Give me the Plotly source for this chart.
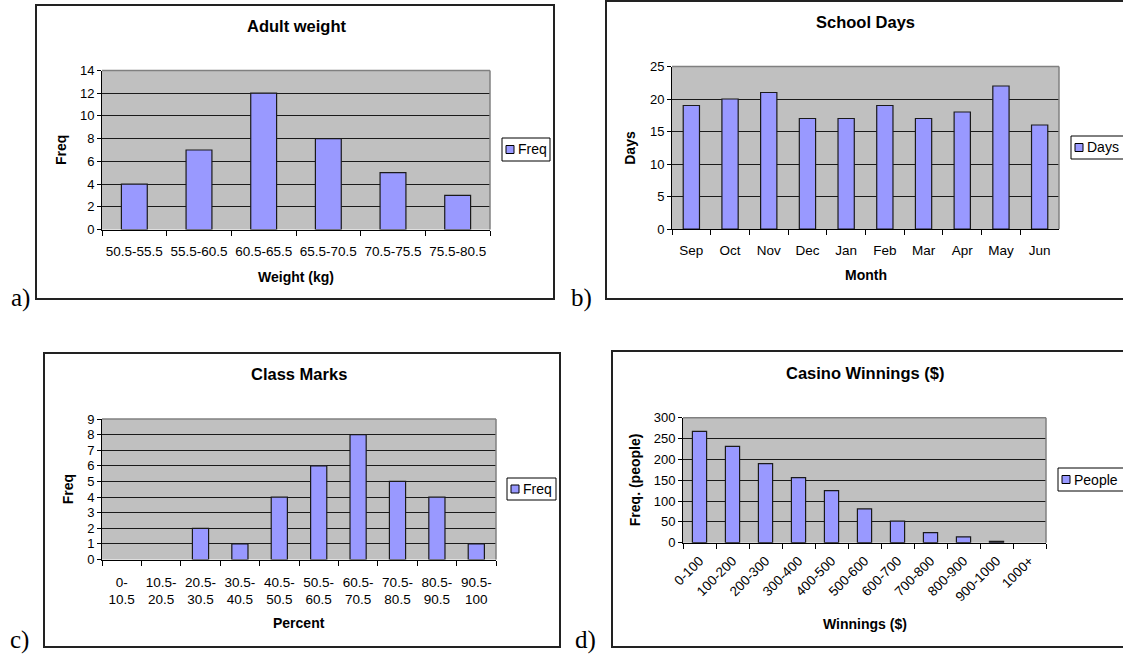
import plotly.graph_objects as go

W, H = 1123, 657

# ---------------- data ----------------
a_cats = ["50.5-55.5", "55.5-60.5", "60.5-65.5", "65.5-70.5", "70.5-75.5", "75.5-80.5"]
a_vals = [4, 7, 12, 8, 5, 3]

b_cats = ["Sep", "Oct", "Nov", "Dec", "Jan", "Feb", "Mar", "Apr", "May", "Jun"]
b_vals = [19, 20, 21, 17, 17, 19, 17, 18, 22, 16]

c_cats = ["0-<br>10.5", "10.5-<br>20.5", "20.5-<br>30.5", "30.5-<br>40.5", "40.5-<br>50.5",
          "50.5-<br>60.5", "60.5-<br>70.5", "70.5-<br>80.5", "80.5-<br>90.5", "90.5-<br>100"]
c_vals = [0, 0, 2, 1, 4, 6, 8, 5, 4, 1]

d_cats = ["0-100", "100-200", "200-300", "300-400", "400-500", "500-600",
          "600-700", "700-800", "800-900", "900-1000", "1000+"]
d_vals = [267, 231, 190, 156, 125, 81, 52, 24, 14, 3, 0]

titles = ["Adult weight", "School Days", "Class Marks", "Casino Winnings ($)"]
x_titles = ["Weight (kg)", "Month", "Percent", "Winnings ($)"]
y_titles = ["Freq", "Days", "Freq", "Freq. (people)"]
series_names = ["Freq", "Days", "Freq", "People"]
panel_labels = ["a)", "b)", "c)", "d)"]
y_ranges = [(0, 14), (0, 25), (0, 9), (0, 300)]
y_dticks = [2, 5, 1, 50]

# ---------------- layout (pixel geometry) ----------------
FONT = "Liberation Sans, Arial, sans-serif"
SERIF = "Liberation Serif, Times New Roman, serif"
BAR_FILL = "#9999FF"
BAR_LINE = "#1a1a1a"
PLOT_BG = "#C0C0C0"


def fx(x):
    return x / W


def fy(y):
    return 1 - y / H


panels = [
    dict(frame=(36, 5, 554, 299), plot=(102, 70.5, 490, 229.5), title_y=26,
         ytitle_x=61, xtitle_y=277, legend=(502, 138, 550, 161), label=(20, 298),
         bar_w=0.40, tickangle=0, standoff=9),
    dict(frame=(606, 1, 1140, 299), plot=(672, 66.5, 1059, 229), title_y=22,
         ytitle_x=630, xtitle_y=275, legend=(1071, 136, 1140, 159), label=(581, 298),
         bar_w=0.42, tickangle=0, standoff=9),
    dict(frame=(44, 353, 560, 647), plot=(102, 419, 496, 559.5), title_y=374,
         ytitle_x=68, xtitle_y=623, legend=(507, 478, 556, 500), label=(19, 640),
         bar_w=0.41, tickangle=0, standoff=10),
    dict(frame=(612, 351, 1140, 647), plot=(683, 417.7, 1046, 542.7), title_y=373,
         ytitle_x=635, xtitle_y=624, legend=(1058, 468, 1140, 491), label=(585, 640),
         bar_w=0.43, tickangle=-45, standoff=4),
]

cats_all = [a_cats, b_cats, c_cats, d_cats]
vals_all = [a_vals, b_vals, c_vals, d_vals]

fig = go.Figure()
shapes = []
annotations = []
layout_axes = {}

for i, p in enumerate(panels):
    n = "" if i == 0 else str(i + 1)
    xa, ya = "x" + n, "y" + n
    x0, y0, x1, y1 = p["plot"]

    # zero-height bars have no visible outline (Excel style)
    line_w = [1.2 if v > 0 else 0 for v in vals_all[i]]
    fig.add_trace(go.Bar(
        x=cats_all[i], y=vals_all[i], name=series_names[i],
        xaxis=xa, yaxis=ya, width=p["bar_w"],
        marker=dict(color=BAR_FILL, line=dict(color=BAR_LINE, width=line_w)),
        showlegend=False,
    ))

    layout_axes["xaxis" + n] = dict(
        domain=[fx(x0), fx(x1)], anchor=ya, type="category",
        showgrid=False, showline=True, linecolor="black", linewidth=1,
        ticks="outside", ticklen=5, tickcolor="black", tickson="boundaries",
        tickangle=p["tickangle"], tickfont=dict(family=FONT, size=13.5, color="black"),
        ticklabelstandoff=p["standoff"], automargin=False, fixedrange=True,
    )
    layout_axes["yaxis" + n] = dict(
        domain=[fy(y1), fy(y0)], anchor=xa, range=list(y_ranges[i]),
        dtick=y_dticks[i], tick0=0, showgrid=True, gridcolor="#1a1a1a", gridwidth=1,
        zeroline=False, showline=True, linecolor="black", linewidth=1,
        ticks="outside", ticklen=4, tickcolor="black",
        tickfont=dict(family=FONT, size=13, color="black"),
        automargin=False, fixedrange=True,
    )

    # plot-area border (top and right edges, grey)
    shapes.append(dict(type="line", xref="paper", yref="paper",
                       x0=fx(x0), x1=fx(x1), y0=fy(y0), y1=fy(y0),
                       line=dict(color="#808080", width=1.5), layer="above"))
    shapes.append(dict(type="line", xref="paper", yref="paper",
                       x0=fx(x1), x1=fx(x1), y0=fy(y0), y1=fy(y1),
                       line=dict(color="#808080", width=1.5), layer="above"))

    # chart frame
    f0, g0, f1, g1 = p["frame"]
    shapes.append(dict(type="rect", xref="paper", yref="paper",
                       x0=fx(f0), x1=fx(f1), y0=fy(g1), y1=fy(g0),
                       line=dict(color="#222222", width=2), fillcolor="rgba(0,0,0,0)",
                       layer="below"))

    cx = (x0 + x1) / 2
    # title
    annotations.append(dict(text=titles[i], xref="paper", yref="paper",
                            x=fx(cx), y=fy(p["title_y"]), xanchor="center", yanchor="middle",
                            showarrow=False,
                            font=dict(family=FONT, size=16.5, color="black", weight="bold")))
    # x title
    annotations.append(dict(text=x_titles[i], xref="paper", yref="paper",
                            x=fx(cx), y=fy(p["xtitle_y"]), xanchor="center", yanchor="middle",
                            showarrow=False,
                            font=dict(family=FONT, size=14, color="black", weight="bold")))
    # y title
    annotations.append(dict(text=y_titles[i], xref="paper", yref="paper",
                            x=fx(p["ytitle_x"]), y=fy((y0 + y1) / 2), xanchor="center",
                            yanchor="middle", textangle=-90, showarrow=False,
                            font=dict(family=FONT, size=14, color="black", weight="bold")))
    # panel label
    lx, ly = p["label"]
    annotations.append(dict(text=panel_labels[i], xref="paper", yref="paper",
                            x=fx(lx), y=fy(ly), xanchor="center", yanchor="middle",
                            showarrow=False,
                            font=dict(family=SERIF, size=25, color="black")))

    # legend box (manual, Excel style)
    l0, m0, l1, m1 = p["legend"]
    shapes.append(dict(type="rect", xref="paper", yref="paper",
                       x0=fx(l0), x1=fx(l1), y0=fy(m1), y1=fy(m0),
                       line=dict(color="black", width=1), fillcolor="white", layer="above"))
    my = (m0 + m1) / 2
    shapes.append(dict(type="rect", xref="paper", yref="paper",
                       x0=fx(l0 + 4), x1=fx(l0 + 12), y0=fy(my + 4), y1=fy(my - 4),
                       line=dict(color="black", width=1), fillcolor=BAR_FILL, layer="above"))
    annotations.append(dict(text=series_names[i], xref="paper", yref="paper",
                            x=fx(l0 + 14), y=fy(my), xanchor="left", yanchor="middle",
                            showarrow=False,
                            font=dict(family=FONT, size=14, color="black")))

fig.update_layout(
    template="none",
    width=W, height=H,
    margin=dict(l=0, r=0, t=0, b=0),
    paper_bgcolor="white",
    plot_bgcolor=PLOT_BG,
    showlegend=False,
    shapes=shapes,
    annotations=annotations,
    bargap=0.6,
    **layout_axes,
)

fig.write_html("out.html", config=dict(displayModeBar=False))

# remove the browser's default 8px body margin so the figure fills the window exactly
with open("out.html", "r", encoding="utf-8") as fh:
    html = fh.read()
html = html.replace("<head>", "<head><style>html,body{margin:0;padding:0;overflow:hidden;}</style>", 1)
with open("out.html", "w", encoding="utf-8") as fh:
    fh.write(html)
